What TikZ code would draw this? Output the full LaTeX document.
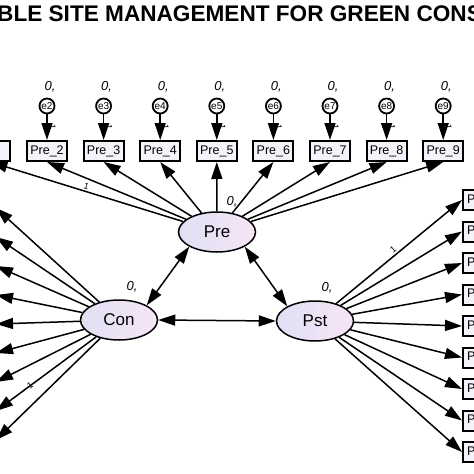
\documentclass[tikz,border=0pt]{standalone}
\usepackage{fontspec}
\setmainfont{Liberation Sans}
\usetikzlibrary{arrows.meta,shapes.geometric}

\definecolor{boxfill}{RGB}{245,243,250}
\definecolor{latl}{RGB}{224,224,243}
\definecolor{latr}{RGB}{246,229,246}

\tikzset{
  obs/.style={draw,line width=2pt,fill=boxfill,minimum width=40pt,minimum height=20pt,inner sep=0pt,font=\fontsize{12.5}{12.5}\selectfont},
  lat/.style={ellipse,draw,line width=1.5pt,left color=latl,right color=latr,minimum width=77pt,minimum height=40pt,inner sep=0pt,font=\fontsize{17}{17}\selectfont},
  err/.style={circle,draw,line width=1.8pt,fill=white,minimum size=15pt,inner sep=0pt,font=\fontsize{10}{10}\selectfont},
  arr/.style={line width=1.5pt,-{Triangle[length=17pt,width=11pt]}},
  cov/.style={line width=1.5pt,{Triangle[length=17pt,width=11pt]}-{Triangle[length=17pt,width=11pt]}},
  var/.style={font=\fontsize{13}{13}\selectfont\itshape,inner sep=0pt},
  one/.style={font=\fontsize{9}{9}\selectfont,sloped,inner sep=1.5pt}
}

\begin{document}
\begin{tikzpicture}[x=1pt,y=-1pt]
\useasboundingbox (0,0) rectangle (474,474);
\clip (0,0) rectangle (474,474);

\node[anchor=base west,inner sep=0pt,font=\fontsize{22.6}{22.6}\selectfont\bfseries] (title) at (-3,21) {BLE SITE MANAGEMENT FOR GREEN CONS};

% latent variables
\node[lat] (Pre) at (217,232) {Pre};
\node[lat] (Con) at (119,320) {Con};
\node[lat] (Pst) at (315,321) {Pst};

\node[var] (vPre) at (232,202) {0,};
\node[var] (vCon) at (132,287) {0,};
\node[var] (vPst) at (327,288) {0,};

% Pre items
\node[obs] (Pre1) at (-9.6,151) {};
\node[obs] (Pre2) at (47,151) {Pre\_2};
\node[obs] (Pre3) at (103.6,151) {Pre\_3};
\node[obs] (Pre4) at (160.2,151) {Pre\_4};
\node[obs] (Pre5) at (216.8,151) {Pre\_5};
\node[obs] (Pre6) at (273.4,151) {Pre\_6};
\node[obs] (Pre7) at (330,151) {Pre\_7};
\node[obs] (Pre8) at (386.6,151) {Pre\_8};
\node[obs] (Pre9) at (443.2,151) {Pre\_9};

% errors
\node[err] (e1) at (-9.6,106) {};
\node[err] (e2) at (47,106) {e2};
\node[err] (e3) at (103.6,106) {e3};
\node[err] (e4) at (160.2,106) {e4};
\node[err] (e5) at (216.8,106) {e5};
\node[err] (e6) at (273.4,106) {e6};
\node[err] (e7) at (330,106) {e7};
\node[err] (e8) at (386.6,106) {e8};
\node[err] (e9) at (443.2,106) {e9};

\node[var] (v2) at (50,87) {0,};
\node[var] (v3) at (106.6,87) {0,};
\node[var] (v4) at (163.2,87) {0,};
\node[var] (v5) at (219.8,87) {0,};
\node[var] (v6) at (276.4,87) {0,};
\node[var] (v7) at (333,87) {0,};
\node[var] (v8) at (389.6,87) {0,};
\node[var] (v9) at (446.2,87) {0,};

\draw[arr] (e1) -- node[one,above]{1} (Pre1);
\draw[arr] (e2) -- node[one,above]{1} (Pre2);
\draw[arr] (e3) -- node[one,above]{1} (Pre3);
\draw[arr] (e4) -- node[one,above]{1} (Pre4);
\draw[arr] (e5) -- node[one,above]{1} (Pre5);
\draw[arr] (e6) -- node[one,above]{1} (Pre6);
\draw[arr] (e7) -- node[one,above]{1} (Pre7);
\draw[arr] (e8) -- node[one,above]{1} (Pre8);
\draw[arr] (e9) -- node[one,above]{1} (Pre9);

% Con items
\node[obs] (Con1) at (-25,208) {};
\node[obs] (Con2) at (-25,237) {};
\node[obs] (Con3) at (-25,266) {};
\node[obs] (Con4) at (-25,295) {};
\node[obs] (Con5) at (-25,324) {};
\node[obs] (Con6) at (-25,353) {};
\node[obs] (Con7) at (-25,382) {};
\node[obs] (Con8) at (-25,411) {};
\node[obs] (Con9) at (-25,440) {};

% Pst items
\node[obs] (Pst1) at (483,200) {Pst\_1};
\node[obs] (Pst2) at (483,231.5) {Pst\_2};
\node[obs] (Pst3) at (483,263) {Pst\_3};
\node[obs] (Pst4) at (483,294.5) {Pst\_4};
\node[obs] (Pst5) at (483,326) {Pst\_5};
\node[obs] (Pst6) at (483,357.5) {Pst\_6};
\node[obs] (Pst7) at (483,389) {Pst\_7};
\node[obs] (Pst8) at (483,420.5) {Pst\_8};
\node[obs] (Pst9) at (483,452) {Pst\_9};

% loadings
\draw[arr] (Pre) -- node[one,pos=0.51,above]{1} (Pre1.south);
\draw[arr] (Pre) -- (Pre2.south);
\draw[arr] (Pre) -- (Pre3.south);
\draw[arr] (Pre) -- (Pre4.south);
\draw[arr] (Pre) -- (Pre5.south);
\draw[arr] (Pre) -- (Pre6.south);
\draw[arr] (Pre) -- (Pre7.south);
\draw[arr] (Pre) -- (Pre8.south);
\draw[arr] (Pre) -- (Pre9.south);

\draw[arr] (Con) -- (Con1.east);
\draw[arr] (Con) -- (Con2.east);
\draw[arr] (Con) -- (Con3.east);
\draw[arr] (Con) -- (Con4.east);
\draw[arr] (Con) -- (Con5.east);
\draw[arr] (Con) -- (Con6.east);
\draw[arr] (Con) -- (Con7.east);
\draw[arr] (Con) -- node[one,pos=0.66]{1} (Con8.east);
\draw[arr] (Con) -- (Con9.east);

\draw[arr] (Pst) -- node[one,pos=0.48,above]{1} (Pst1.west);
\draw[arr] (Pst) -- (Pst2.west);
\draw[arr] (Pst) -- (Pst3.west);
\draw[arr] (Pst) -- (Pst4.west);
\draw[arr] (Pst) -- (Pst5.west);
\draw[arr] (Pst) -- (Pst6.west);
\draw[arr] (Pst) -- (Pst7.west);
\draw[arr] (Pst) -- (Pst8.west);
\draw[arr] (Pst) -- (Pst9.west);

% covariances
\draw[cov] (Pre.south west) -- (Con.north east);
\draw[cov] (Pre.south east) -- (Pst.north west);
\draw[cov] (Con.east) -- (Pst.west);
\end{tikzpicture}
\end{document}
